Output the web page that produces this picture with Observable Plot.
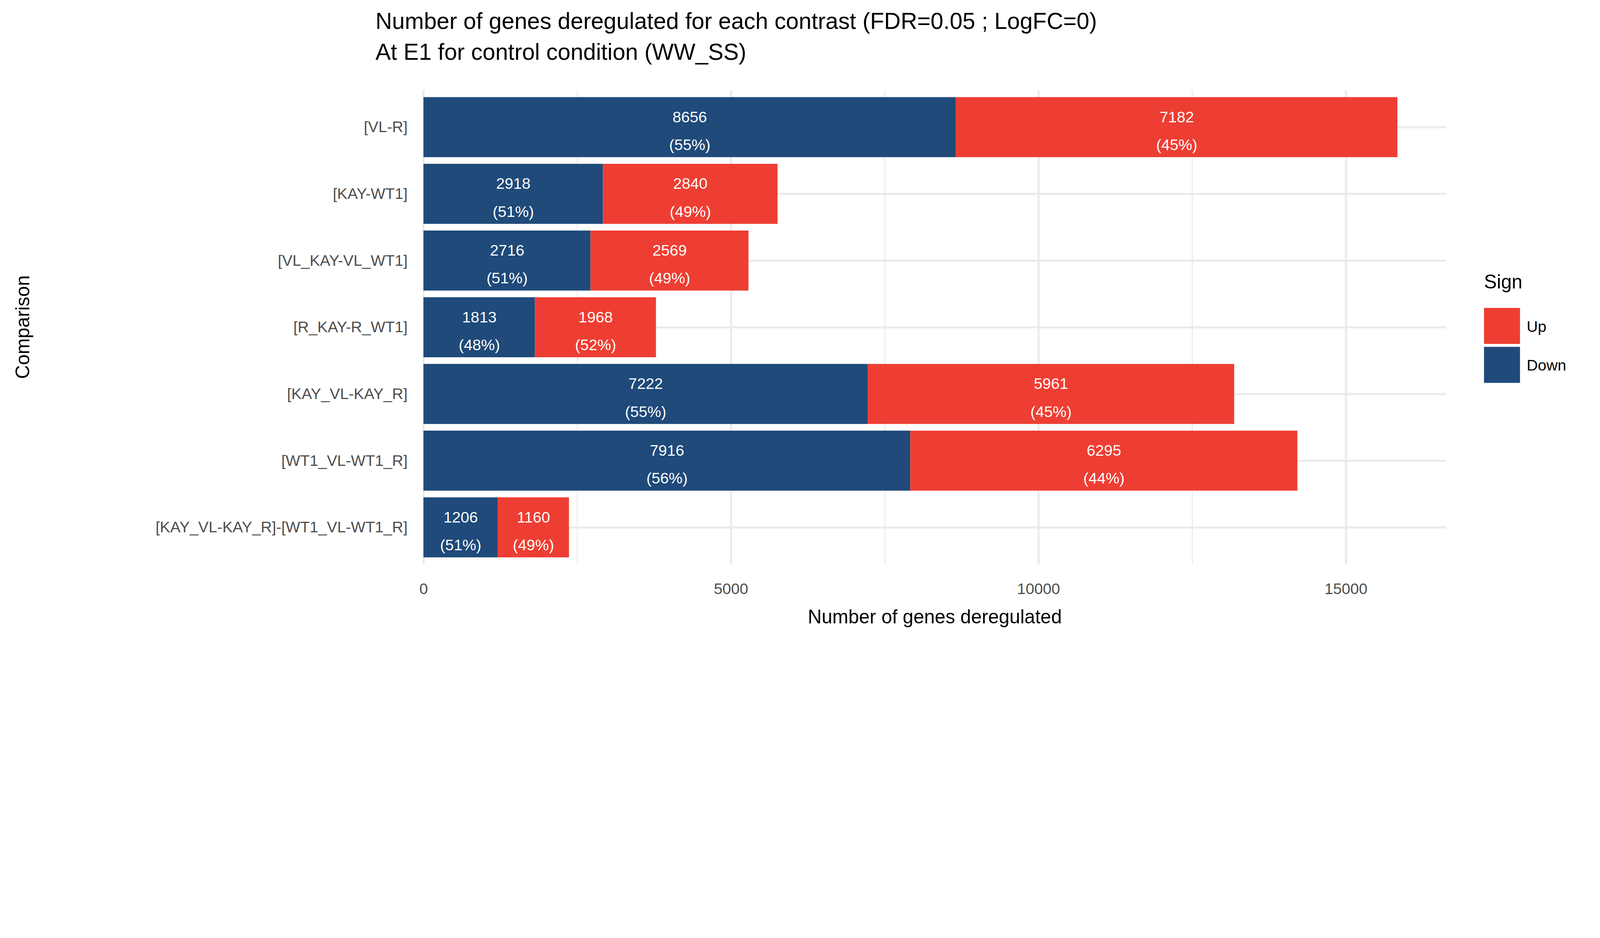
<!DOCTYPE html>
<html><head><meta charset="utf-8">
<script src="https://cdn.jsdelivr.net/npm/d3@7"></script>
<script src="https://cdn.jsdelivr.net/npm/@observablehq/plot@0.6"></script>
<style>
html,body{margin:0;padding:0;background:#fff;font-family:"Liberation Sans",Arial,sans-serif;overflow:hidden;}
#wrap{position:absolute;left:0;top:0;width:6000px;height:2400px;transform-origin:0 0;}
.t{position:absolute;white-space:nowrap;}
</style></head><body><div id="wrap"></div>
<script>
const comparisons = ["[VL-R]","[KAY-WT1]","[VL_KAY-VL_WT1]","[R_KAY-R_WT1]","[KAY_VL-KAY_R]","[WT1_VL-WT1_R]","[KAY_VL-KAY_R]-[WT1_VL-WT1_R]"];
const down = [8656,2918,2716,1813,7222,7916,1206];
const up = [7182,2840,2569,1968,5961,6295,1160];
const signs = ["Up","Down"];
const colors = {Up:"#EE3E33", Down:"#1F4A7A"};
const majorTicks = [0,5000,10000,15000];
const minorTicks = [2500,7500,12500];

const rows = [];
comparisons.forEach((c,i)=>{
  const tot = down[i]+up[i];
  rows.push({c, sign:"Down", x1:0, x2:down[i], v:down[i], p:Math.round(down[i]/tot*100)});
  rows.push({c, sign:"Up", x1:down[i], x2:tot, v:up[i], p:Math.round(up[i]/tot*100)});
});

const plot = Plot.plot({
  width:6000, height:2400,
  marginLeft:1588, marginRight:577, marginTop:338, marginBottom:285,
  style:{fontFamily:"Liberation Sans, Arial, sans-serif", fontSize:"58px", color:"#4D4D4D", background:"white", maxWidth:"none"},
  x:{domain:[0,16630]},
  y:{domain:comparisons, padding:0.1},
  marks:[
    Plot.ruleX(minorTicks,{stroke:"#EBEBEB", strokeWidth:4}),
    Plot.ruleX(majorTicks,{stroke:"#EBEBEB", strokeWidth:8}),
    Plot.gridY({stroke:"#EBEBEB", strokeWidth:8, strokeOpacity:1}),
    Plot.barX(rows,{y:"c", x1:"x1", x2:"x2", fill:d=>colors[d.sign]}),
    Plot.text(rows,{y:"c", x:d=>(d.x1+d.x2)/2, text:d=>`${d.v}\n(${d.p}%)`, fill:"white", fontSize:58, lineHeight:1.8}),
    Plot.axisX({ticks:majorTicks, tickSize:0, tickPadding:70, tickFormat:d=>String(d), fontSize:58, fill:"#4D4D4D", label:null}),
    Plot.axisY({tickSize:0, tickPadding:60, fontSize:58, fill:"#4D4D4D", label:null})
  ]
});
const wrap = document.getElementById("wrap");
plot.style.position="absolute"; plot.style.left="0"; plot.style.top="0";
wrap.appendChild(plot);
function addText(txt, css){const d=document.createElement("div");d.className="t";d.textContent=txt;Object.assign(d.style,css);wrap.appendChild(d);return d;}
addText("Number of genes deregulated for each contrast (FDR=0.05 ; LogFC=0)",{left:"1408px",top:"30px",fontSize:"86px",color:"#000"});
addText("At E1 for control condition (WW_SS)",{left:"1408px",top:"145px",fontSize:"86px",color:"#000"});
addText("Number of genes deregulated",{left:(1588+(5423-1588)/2)+"px",top:"2270px",fontSize:"72px",color:"#000",transform:"translateX(-50%)"});
addText("Comparison",{left:"85px",top:"1226px",fontSize:"72px",color:"#000",transform:"translate(-50%,-50%) rotate(-90deg)"});
addText("Sign",{left:"5565px",top:"1015px",fontSize:"72px",color:"#000"});
signs.forEach((s,i)=>{
  const b=document.createElement("div");
  Object.assign(b.style,{position:"absolute",left:"5565px",top:(1154+i*146)+"px",width:"135px",height:"135px",background:colors[s]});
  wrap.appendChild(b);
  addText(s,{left:"5725px",top:(1154+i*146+35)+"px",fontSize:"58px",color:"#000"});
});
function fit(){const s=Math.min(window.innerWidth/6000, window.innerHeight/2400);wrap.style.transform=`scale(${s})`;}
fit(); window.addEventListener("resize",fit);
</script></body></html>
